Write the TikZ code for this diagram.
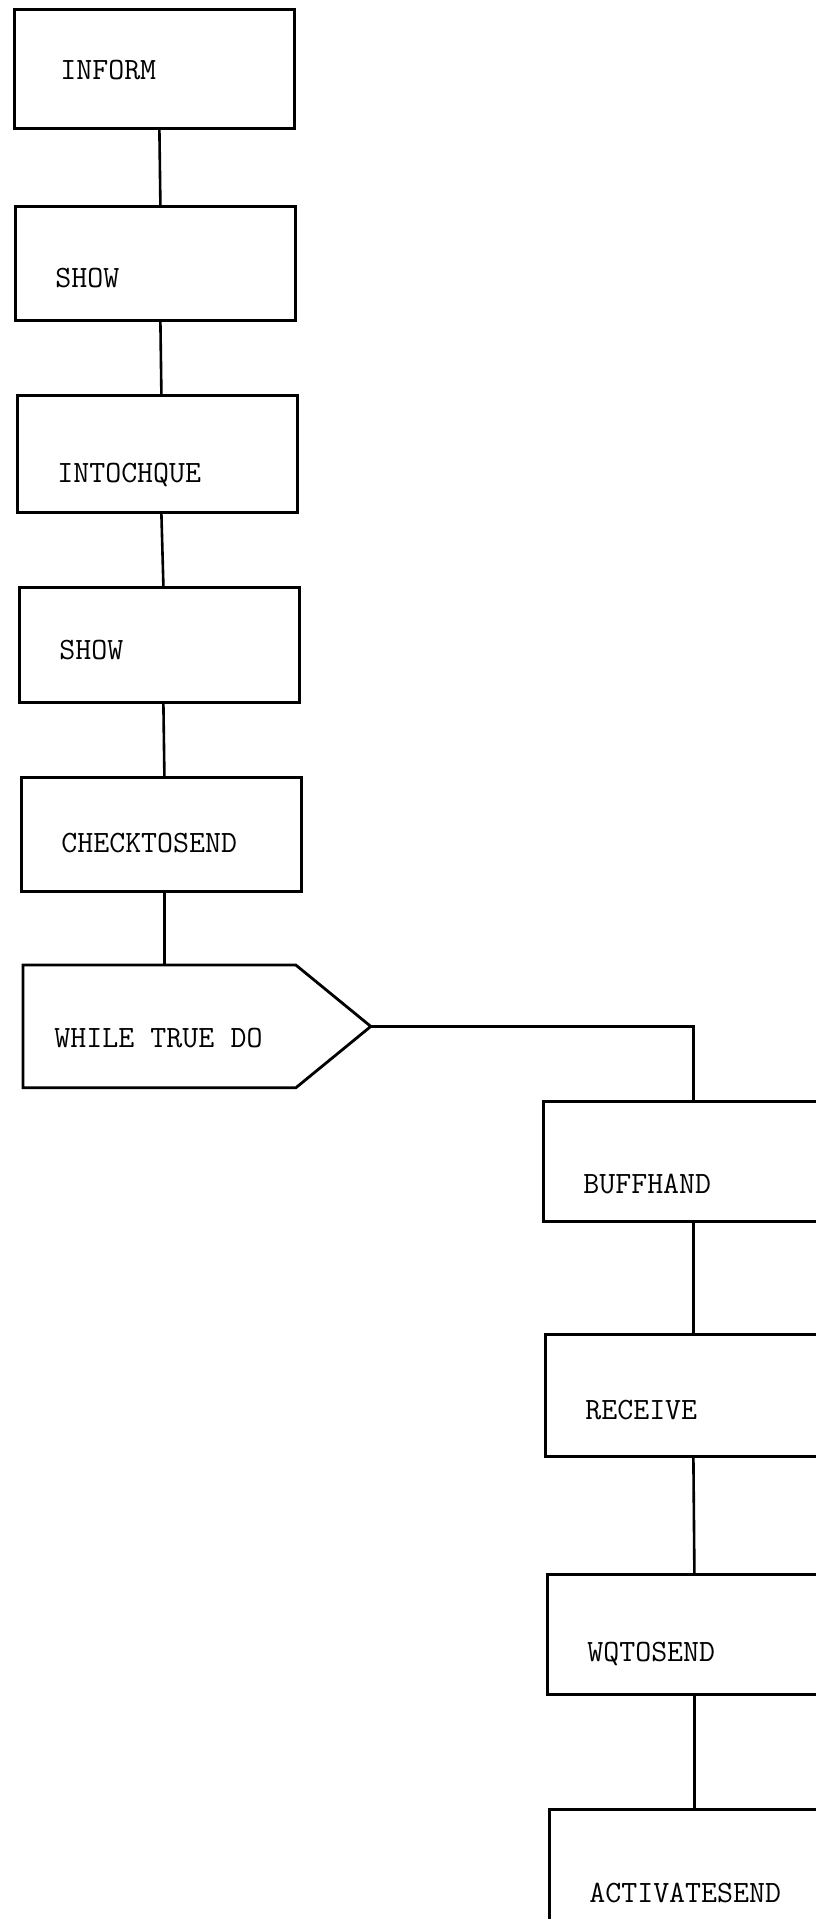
\documentclass[tikz,border=0pt]{standalone}
\usepackage{fontspec}
\usepackage{tikz}
\newcommand{\boxfont}{\fontsize{31}{36}\selectfont\ttfamily}
\newcommand{\tsp}{\hspace{0.525em}}
\tikzstyle{stage} = [draw, line width=2.8pt, rectangle, anchor=north west, inner xsep=40pt, text width=200pt, align=left, text depth=0pt, minimum height=117pt, font=\boxfont]
\tikzstyle{rstage} = [stage, text width=220pt, minimum height=120pt]
\tikzstyle{link} = [line width=2.6pt]

\begin{document}
\begin{tikzpicture}[x=1pt,y=-1pt]

\clip (0,0) rectangle (816,1919);

\node[stage, inner xsep=46pt, text width=188pt, minimum height=119pt, text height=21pt] (inform) at (13,8) {INFORM};
\node[stage, minimum height=114pt, text height=48pt] (show1) at (14,205) {SHOW};
\node[stage, text height=58pt] (intochque) at (16,394) {INTOCHQUE};
\node[stage, minimum height=115pt, text height=30pt] (show2) at (18,586) {SHOW};
\node[stage, minimum height=114pt, text height=36pt] (checktosend) at (20,776) {CHECKTOSEND};
\node[stage, draw=none, inner xsep=30pt, text width=210pt, minimum height=120pt, text height=42pt] (loop) at (23,965) {WHILE\tsp TRUE\tsp DO};
\coordinate (looptip) at ([xshift=75pt]loop.east);
\draw[line width=2.8pt] (loop.north west) -- (loop.north east) -- (looptip) -- (loop.south east) -- (loop.south west) -- cycle;

\node[rstage, text height=64pt] (buffhand) at (542,1100) {BUFFHAND};
\node[rstage, minimum height=122pt, text height=48pt] (receive) at (544,1333) {RECEIVE};
\node[rstage, text height=54pt] (wqtosend) at (546,1573) {WQTOSEND};
\node[rstage, text height=66pt] (activatesend) at (548,1808) {ACTIVATESEND};

\draw[link] ([xshift=5pt]inform.south) -- ([xshift=5pt]show1.north);
\draw[link] ([xshift=5pt]show1.south) -- ([xshift=4pt]intochque.north);
\draw[link] ([xshift=4pt]intochque.south) -- ([xshift=4pt]show2.north);
\draw[link] ([xshift=4pt]show2.south) -- ([xshift=3pt]checktosend.north);
\draw[link] ([xshift=3pt]checktosend.south) -- ([xshift=5pt]loop.north);
\draw[link] (looptip) -| (buffhand.north);
\draw[link] (buffhand.south) -- ([xshift=-2pt]receive.north);
\draw[link] ([xshift=-2pt]receive.south) -- ([xshift=-3pt]wqtosend.north);
\draw[link] ([xshift=-3pt]wqtosend.south) -- ([xshift=-5pt]activatesend.north);

\end{tikzpicture}
\end{document}
